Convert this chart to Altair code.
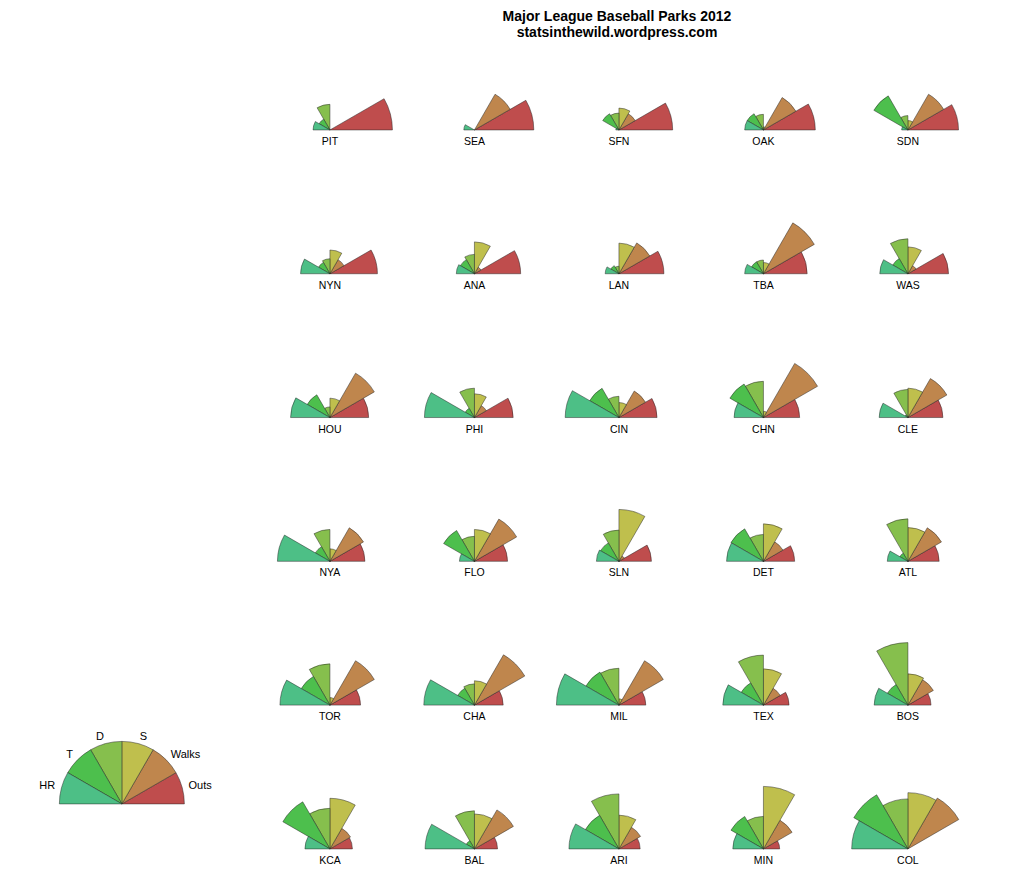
import math
import altair as alt
import pandas as pd

parks = ["PIT", "SEA", "SFN", "OAK", "SDN",
         "NYN", "ANA", "LAN", "TBA", "WAS",
         "HOU", "PHI", "CIN", "CHN", "CLE",
         "NYA", "FLO", "SLN", "DET", "ATL",
         "TOR", "CHA", "MIL", "TEX", "BOS",
         "KCA", "BAL", "ARI", "MIN", "COL"]

# scaled (0..1) values
outs = [1.00, 0.95, 0.86, 0.83, 0.81, 0.76, 0.74, 0.72, 0.70, 0.65,
        0.62, 0.62, 0.61, 0.58, 0.56, 0.56, 0.53, 0.52, 0.50, 0.50,
        0.49, 0.46, 0.43, 0.41, 0.37, 0.36, 0.37, 0.34, 0.26, 0.00]
walks = [0.00, 0.66, 0.30, 0.60, 0.66, 0.26, 0.12, 0.57, 0.94, 0.15,
         0.82, 0.22, 0.49, 1.00, 0.72, 0.62, 0.78, 0.10, 0.36, 0.62,
         0.82, 0.93, 0.82, 0.31, 0.47, 0.38, 0.72, 0.40, 0.53, 0.94]
singles = [0.00, 0.00, 0.35, 0.05, 0.15, 0.38, 0.51, 0.49, 0.18, 0.43,
           0.31, 0.38, 0.24, 0.10, 0.47, 0.20, 0.51, 0.83, 0.60, 0.54,
           0.12, 0.39, 0.10, 0.58, 0.50, 0.81, 0.56, 0.54, 1.00, 0.90]
doubles = [0.41, 0.00, 0.27, 0.25, 0.23, 0.24, 0.31, 0.12, 0.22, 0.56,
           0.17, 0.47, 0.34, 0.58, 0.45, 0.51, 0.40, 0.50, 0.43, 0.68,
           0.66, 0.34, 0.59, 0.80, 1.00, 0.65, 0.61, 0.88, 0.52, 0.80]
triples = [0.20, 0.00, 0.30, 0.30, 0.63, 0.21, 0.26, 0.15, 0.22, 0.28,
           0.42, 0.17, 0.54, 0.62, 0.05, 0.27, 0.57, 0.34, 0.60, 0.15,
           0.53, 0.31, 0.61, 0.41, 0.38, 0.87, 0.15, 0.62, 0.60, 1.00]
homers = [0.27, 0.17, 0.05, 0.30, 0.10, 0.47, 0.29, 0.22, 0.30, 0.45,
          0.63, 0.80, 0.86, 0.47, 0.46, 0.84, 0.24, 0.36, 0.59, 0.33,
          0.80, 0.81, 1.00, 0.65, 0.54, 0.40, 0.79, 0.80, 0.49, 0.90]

variables = ["Outs", "Walks", "S", "D", "T", "HR"]
colors = ["#BF4D4D", "#BF864D", "#BFBF4D", "#86BF4D", "#4DBF4D", "#4DBF86"]
series = [outs, walks, singles, doubles, triples, homers]

NCOL = 5
KEY_COL, KEY_ROW = -1.44, 4.687


def seg_angles(k):
    # segment k spans 30k..30(k+1) degrees counter-clockwise from 3 o'clock;
    # vega measures clockwise from 12 o'clock
    a1 = 90 - 30 * (k + 1)
    a2 = 90 - 30 * k
    if a1 < 0:
        a1 += 360
        a2 += 360
    return math.radians(a1), math.radians(a2)


rows = []
for i, p in enumerate(parks):
    for k, v in enumerate(variables):
        t1, t2 = seg_angles(k)
        rows.append(dict(park=p, col=i % NCOL, row=i // NCOL, var=v,
                         value=series[k][i], t1=t1, t2=t2))
df = pd.DataFrame(rows)

lab = pd.DataFrame(dict(park=parks,
                        col=[i % NCOL for i in range(len(parks))],
                        row=[i // NCOL for i in range(len(parks))]))

key_rows = []
for k, v in enumerate(variables):
    t1, t2 = seg_angles(k)
    key_rows.append(dict(col=KEY_COL, row=KEY_ROW, var=v, value=1.0,
                         t1=t1, t2=t2, tm=(t1 + t2) / 2,
                         side="right" if k < 3 else "left"))
kdf = pd.DataFrame(key_rows)

xs = alt.Scale(domain=[-2.228, 4.748], range=[0, 1008])
ys = alt.Scale(domain=[-0.570, 5.244], range=[0, 836])
rs = alt.Scale(type="linear", domain=[0, 1], range=[0, 62.5], zero=True)
cs = alt.Scale(domain=variables, range=colors)

X = alt.X("col:Q", scale=xs, axis=None)
Y = alt.Y("row:Q", scale=ys, axis=None)

arcs = alt.Chart(df).mark_arc(stroke="#222", strokeWidth=0.6, strokeOpacity=0.8).encode(
    x=X, y=Y,
    theta=alt.Theta("t1:Q", scale=None),
    theta2="t2:Q",
    radius=alt.Radius("value:Q", scale=rs),
    color=alt.Color("var:N", scale=cs, legend=None),
)

labels = alt.Chart(lab).mark_text(fontSize=10.5, font="Liberation Sans", dy=12,
                                  baseline="middle", color="black").encode(
    x=X, y=Y, text="park:N")

keyarcs = alt.Chart(kdf).mark_arc(stroke="#222", strokeWidth=0.6, strokeOpacity=0.8).encode(
    x=X, y=Y,
    theta=alt.Theta("t1:Q", scale=None),
    theta2="t2:Q",
    radius=alt.Radius("value:Q", scale=rs),
    color=alt.Color("var:N", scale=cs, legend=None),
)

kl_right = alt.Chart(kdf).transform_filter(alt.datum.side == "right").mark_text(
    fontSize=11, font="Liberation Sans", align="left", baseline="middle",
    color="black", radius=69).encode(
    x=X, y=Y, theta=alt.Theta("tm:Q", scale=None), text="var:N")

kl_left = alt.Chart(kdf).transform_filter(alt.datum.side == "left").mark_text(
    fontSize=11, font="Liberation Sans", align="right", baseline="middle",
    color="black", radius=69).encode(
    x=X, y=Y, theta=alt.Theta("tm:Q", scale=None), text="var:N")

chart = alt.layer(arcs, labels, keyarcs, kl_right, kl_left).properties(
    width=1008, height=836,
    padding={"left": 0, "right": 0, "top": 40, "bottom": 0},
    autosize="none",
    title=alt.Title(["Major League Baseball Parks 2012", "statsinthewild.wordpress.com"],
                    fontSize=14, fontWeight="bold", font="Liberation Sans",
                    color="black", anchor="middle", dx=105, offset=8,
                    lineHeight=16),
).configure_view(stroke=None)

chart.save("out.html", embed_options={"renderer": "svg", "actions": False})
